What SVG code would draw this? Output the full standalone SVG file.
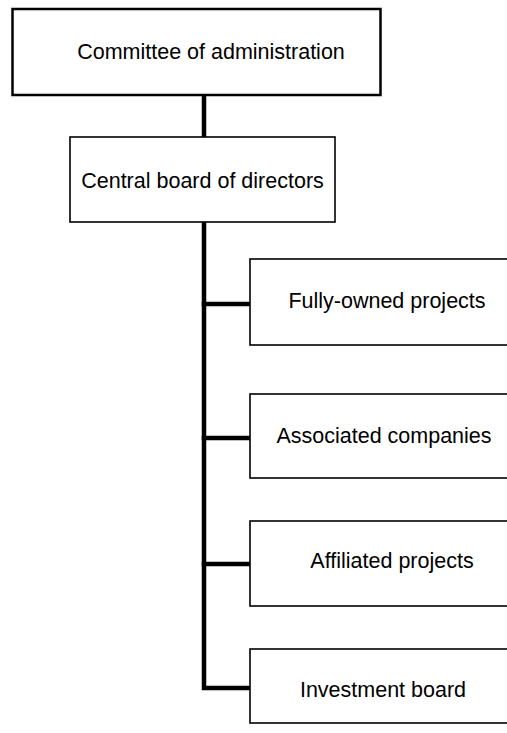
<svg xmlns="http://www.w3.org/2000/svg" width="507" height="733" viewBox="0 0 507 733">
<style>
.box{fill:#fff;stroke:#000;stroke-width:2}
.lbl{font-family:"Liberation Sans",Arial,sans-serif;font-size:21.5px;fill:#000;text-anchor:middle}
.conn{stroke:#000;stroke-width:4.5;fill:none;stroke-linecap:square}
</style>
<rect width="507" height="733" fill="#fff"/>
<g id="connectors">
<line class="conn" x1="204" y1="96" x2="204" y2="137"/>
<polyline class="conn" points="204,223 204,688 249,688"/>
<line class="conn" x1="204" y1="304" x2="249" y2="304"/>
<line class="conn" x1="204" y1="438" x2="249" y2="438"/>
<line class="conn" x1="204" y1="564" x2="249" y2="564"/>
</g>
<g id="n1"><rect class="box" x="12.5" y="9" width="368" height="86" style="stroke-width:2.5"/><text class="lbl" x="211" y="59">Committee of administration</text></g>
<g id="n2"><rect class="box" x="70" y="137" width="265" height="85" style="stroke-width:1.6"/><text class="lbl" x="202.5" y="188">Central board of directors</text></g>
<g id="n3"><rect class="box" x="250" y="259" width="270" height="86" style="stroke-width:1.6"/><text class="lbl" x="387" y="308">Fully-owned projects</text></g>
<g id="n4"><rect class="box" x="250" y="394" width="270" height="84" style="stroke-width:1.6"/><text class="lbl" x="384" y="443">Associated companies</text></g>
<g id="n5"><rect class="box" x="250" y="521" width="270" height="85" style="stroke-width:1.6"/><text class="lbl" x="392" y="568">Affiliated projects</text></g>
<g id="n6"><rect class="box" x="250" y="649" width="270" height="74" style="stroke-width:1.6"/><text class="lbl" x="383" y="697">Investment board</text></g>
</svg>
